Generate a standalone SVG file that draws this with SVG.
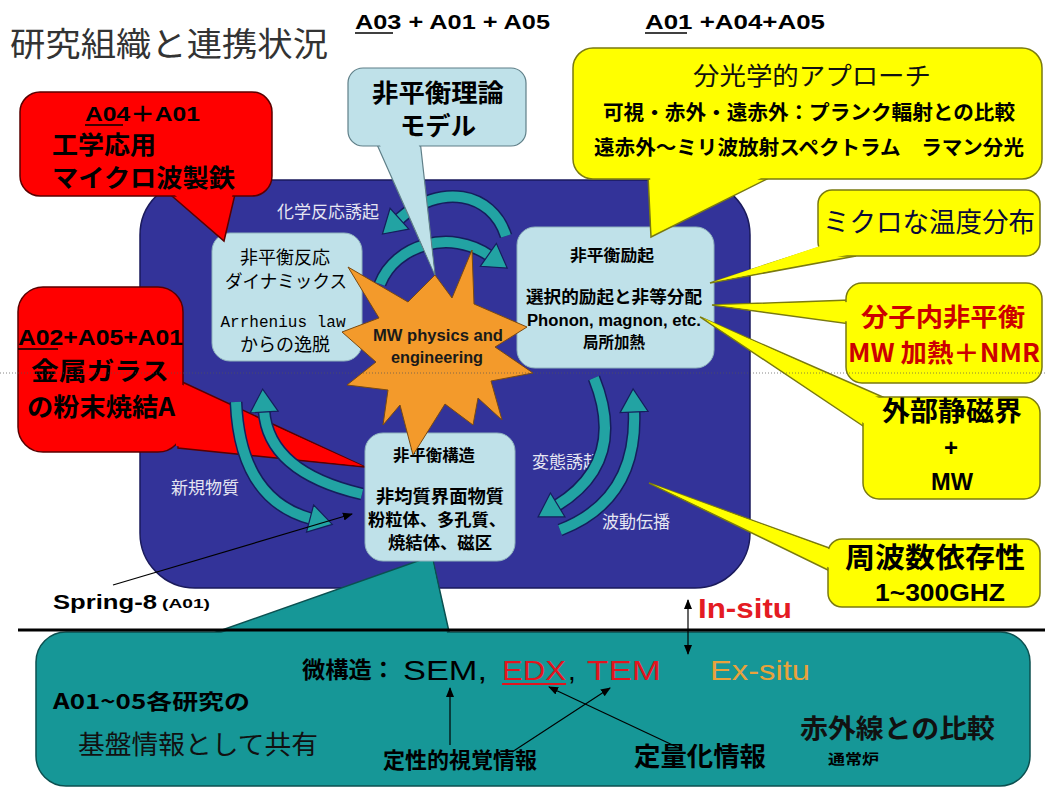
<svg xmlns="http://www.w3.org/2000/svg" width="1045" height="787" viewBox="0 0 1045 787">
<defs>
<style>
.jp{font-family:"Noto Sans CJK JP","Liberation Sans",sans-serif;}
.lat{font-family:"Liberation Sans","Noto Sans CJK JP",sans-serif;}
.mono{font-family:"Liberation Mono","Noto Sans CJK JP",monospace;}
.b{font-weight:bold;}
.m{text-anchor:middle;}
.red{fill:#FF0000;stroke:#5a0000;stroke-width:1.5;}
.redf{fill:#FF0000;stroke:none;}
.yel{fill:#FFFF00;stroke:#7a7a10;stroke-width:1.5;}
.yelf{fill:#FFFF00;stroke:none;}
.lb{fill:#BFE1E9;stroke:#5f7f88;stroke-width:1.2;}
.lbf{fill:#BFE1E9;stroke:none;}
.box{fill:#BFE1E9;stroke:#8fb3bd;stroke-width:1;}
.tl{fill:#169797;stroke:#0b5050;stroke-width:1.5;}
.tlf{fill:#169797;stroke:none;}
.co{fill:none;stroke:#151e5c;stroke-width:13;}
.ci{fill:none;stroke:#22A3A3;stroke-width:10;marker-end:url(#tah);}
.nl{fill:#E6E6F2;font-size:17px;}
.blk{stroke:#000;stroke-width:1.2;fill:none;marker-end:url(#bah);}
</style>
<marker id="tah" markerUnits="userSpaceOnUse" markerWidth="26" markerHeight="30" viewBox="0 0 26 30" refX="3" refY="15" orient="auto"><path d="M1,1 L24,15 L1,29 Z" fill="#22A3A3" stroke="#151e5c" stroke-width="1.2"/></marker>
<marker id="bah" markerUnits="userSpaceOnUse" markerWidth="10" markerHeight="10" viewBox="0 0 10 10" refX="9" refY="5" orient="auto"><path d="M0,1 L10,5 L0,9 Z" fill="#000"/></marker>
<marker id="bas" markerUnits="userSpaceOnUse" markerWidth="10" markerHeight="10" viewBox="0 0 10 10" refX="1" refY="5" orient="auto"><path d="M10,1 L0,5 L10,9 Z" fill="#000"/></marker>
</defs>

<rect x="0" y="0" width="1045" height="787" fill="#FFFFFF"/>

<g id="title">
<text x="10" y="56" class="jp" font-size="33" fill="#333333" textLength="318" lengthAdjust="spacingAndGlyphs">研究組織と連携状況</text>
</g>

<g id="header-a03">
<text x="355" y="29" class="lat b" font-size="20" fill="#000" textLength="195" lengthAdjust="spacingAndGlyphs">A03 + A01 + A05</text>
<line x1="355" y1="33" x2="393" y2="33" stroke="#000" stroke-width="1.5"/>
</g>
<g id="header-a01">
<text x="645" y="29" class="lat b" font-size="20" fill="#000" textLength="180" lengthAdjust="spacingAndGlyphs">A01  +A04+A05</text>
<line x1="645" y1="33" x2="687" y2="33" stroke="#000" stroke-width="1.5"/>
</g>

<g id="main-area">
<rect x="140" y="180" width="610" height="408" rx="55" fill="#333399" stroke="#1a1a5c" stroke-width="1.5"/>
<text x="328" y="218" class="jp nl m">化学反応誘起</text>
<text x="205" y="494" class="jp nl m">新規物質</text>
<text x="566" y="468" class="jp nl m">変態誘起</text>
<text x="636" y="528" class="jp nl m">波動伝播</text>
</g>

<g id="callout-shared">
<polygon class="tl" points="205,636 432,556 450,636"/>
<rect class="tl" x="36" y="632" width="994" height="154" rx="30"/>
<polygon class="tlf" points="207,638 432,558 448,638"/>
<text x="53" y="709" class="jp b" font-size="21" fill="#000" textLength="197" lengthAdjust="spacingAndGlyphs">A01~05各研究の</text>
<text x="78" y="754" class="jp" font-size="26" fill="#111" textLength="240" lengthAdjust="spacingAndGlyphs">基盤情報として共有</text>
<text x="302" y="678" class="jp b" font-size="23" fill="#000" textLength="93" lengthAdjust="spacingAndGlyphs">微構造：</text>
<text x="403" y="680" class="lat" font-size="28" fill="#000" textLength="84" lengthAdjust="spacingAndGlyphs">SEM,</text>
<text x="502" y="680" class="lat" font-size="28" fill="#E3141E" textLength="64" lengthAdjust="spacingAndGlyphs">EDX</text>
<line x1="502" y1="684" x2="566" y2="684" stroke="#E3141E" stroke-width="2"/>
<text x="568" y="680" class="lat" font-size="28" fill="#000">,</text>
<text x="587" y="680" class="lat" font-size="28" fill="#E3141E" textLength="74" lengthAdjust="spacingAndGlyphs">TEM</text>
<text x="710" y="680" class="lat" font-size="28" fill="#E9A23B" textLength="100" lengthAdjust="spacingAndGlyphs">Ex-situ</text>
<text x="383" y="768" class="jp b" font-size="22" fill="#000" textLength="154" lengthAdjust="spacingAndGlyphs">定性的視覚情報</text>
<text x="634" y="766" class="jp b" font-size="26" fill="#000" textLength="132" lengthAdjust="spacingAndGlyphs">定量化情報</text>
<text x="800" y="738" class="jp b" font-size="26" fill="#111" textLength="195" lengthAdjust="spacingAndGlyphs">赤外線との比較</text>
<text x="828" y="764" class="jp b" font-size="14" fill="#000" textLength="51" lengthAdjust="spacingAndGlyphs">通常炉</text>
</g>

<g id="callout-a02">
<polygon class="red" points="178,380 365,467 178,448"/>
<rect class="red" x="18" y="287" width="165" height="165" rx="25"/>
<polygon class="redf" points="176,382 363,466 176,446"/>
<text x="18" y="345" class="lat b" font-size="22" fill="#000" textLength="165" lengthAdjust="spacingAndGlyphs">A02+A05+A01</text>
<line x1="18" y1="349" x2="58" y2="349" stroke="#000" stroke-width="1.5"/>
<text x="100" y="380" class="jp b m" font-size="25" fill="#000" textLength="138" lengthAdjust="spacingAndGlyphs">金属ガラス</text>
<text x="101" y="416" class="jp b m" font-size="25" fill="#000" textLength="148" lengthAdjust="spacingAndGlyphs">の粉末焼結A</text>
</g>

<g id="connectors">
<path class="co" d="M 506 236 C 492 192 440 182 398 220"/>
<path class="ci" d="M 506 236 C 492 192 440 182 398 220"/>
<path class="co" d="M 380 284 C 395 245 450 228 490 256"/>
<path class="ci" d="M 380 284 C 395 245 450 228 490 256"/>
<path class="co" d="M 362 494 Q 268 472 264 410"/>
<path class="ci" d="M 362 494 Q 268 472 264 410"/>
<path class="co" d="M 236 402 Q 240 500 312 519"/>
<path class="ci" d="M 236 402 Q 240 500 312 519"/>
<path class="co" d="M 594 378 Q 628 462 556 506"/>
<path class="ci" d="M 594 378 Q 628 462 556 506"/>
<path class="co" d="M 560 530 Q 638 500 634 410"/>
<path class="ci" d="M 560 530 Q 638 500 634 410"/>
</g>

<g id="callout-theory">
<polygon class="lb" points="375,140 435,275 420,140"/>
<rect class="lb" x="348" y="68" width="178" height="78" rx="15"/>
<polygon class="lbf" points="377,138 434,272 418,138"/>
<text x="438" y="102" class="jp b m" font-size="25" fill="#000" textLength="132" lengthAdjust="spacingAndGlyphs">非平衡理論</text>
<text x="438" y="135" class="jp b m" font-size="25" fill="#000" textLength="76" lengthAdjust="spacingAndGlyphs">モデル</text>
</g>

<g id="node-reaction">
<rect class="box" x="212" y="233" width="150" height="128" rx="18"/>
<text x="285" y="264" class="jp m" font-size="18" fill="#000" textLength="90" lengthAdjust="spacingAndGlyphs">非平衡反応</text>
<text x="286" y="288" class="jp m" font-size="18" fill="#000" textLength="122" lengthAdjust="spacingAndGlyphs">ダイナミックス</text>
<text x="283" y="327" class="mono m" font-size="16" fill="#000" textLength="125" lengthAdjust="spacingAndGlyphs">Arrhenius law</text>
<text x="285" y="351" class="jp m" font-size="18" fill="#000" textLength="90" lengthAdjust="spacingAndGlyphs">からの逸脱</text>
</g>

<g id="node-excitation">
<rect class="box" x="517" y="227" width="197" height="141" rx="18"/>
<text x="612" y="261" class="jp b m" font-size="16" fill="#000" textLength="84" lengthAdjust="spacingAndGlyphs">非平衡励起</text>
<text x="614" y="303" class="jp b m" font-size="17" fill="#000" textLength="176" lengthAdjust="spacingAndGlyphs">選択的励起と非等分配</text>
<text x="614" y="326" class="lat b m" font-size="16" fill="#000" textLength="174" lengthAdjust="spacingAndGlyphs">Phonon, magnon, etc.</text>
<text x="614" y="348" class="jp b m" font-size="16" fill="#000" textLength="62" lengthAdjust="spacingAndGlyphs">局所加熱</text>
</g>

<g id="node-structure">
<rect class="box" x="365" y="433" width="150" height="128" rx="18"/>
<text x="434" y="461" class="jp b m" font-size="16" fill="#000" textLength="82" lengthAdjust="spacingAndGlyphs">非平衡構造</text>
<text x="440" y="503" class="jp b m" font-size="18" fill="#000" textLength="128" lengthAdjust="spacingAndGlyphs">非均質界面物質</text>
<text x="437" y="526" class="jp b m" font-size="17" fill="#000" textLength="138" lengthAdjust="spacingAndGlyphs">粉粒体、多孔質、</text>
<text x="440" y="549" class="jp b m" font-size="17" fill="#000" textLength="104" lengthAdjust="spacingAndGlyphs">焼結体、磁区</text>
</g>

<g id="node-mw">
<polygon points="435,275 452,298 472,250 474,304 527,327 495,347 533,373 491,381 502,420 478,398 473,425 445,404 413,455 400,405 383,425 388,390 347,385 376,362 342,332 379,318 348,267 408,302" fill="#F39A2B" stroke="#7a4a10" stroke-width="1"/>
<text x="438" y="341" class="lat b m" font-size="16" fill="#1a1a1a" textLength="130" lengthAdjust="spacingAndGlyphs">MW physics and</text>
<text x="437" y="363" class="lat b m" font-size="16" fill="#1a1a1a" textLength="92" lengthAdjust="spacingAndGlyphs">engineering</text>
</g>

<g id="callout-a04">
<polygon class="red" points="165,190 224,241 236,190"/>
<rect class="red" x="20" y="92" width="252" height="104" rx="20"/>
<polygon class="redf" points="167,188 223,238 234,188"/>
<text x="85" y="121" class="lat b" font-size="21" fill="#000" textLength="115" lengthAdjust="spacingAndGlyphs">A04＋A01</text>
<line x1="85" y1="125" x2="123" y2="125" stroke="#000" stroke-width="1.5"/>
<text x="52" y="154" class="jp b" font-size="25" fill="#000" textLength="104" lengthAdjust="spacingAndGlyphs">工学応用</text>
<text x="52" y="187" class="jp b" font-size="25" fill="#000" textLength="183" lengthAdjust="spacingAndGlyphs">マイクロ波製鉄</text>
</g>

<g id="callout-spectro">
<polygon class="yel" points="648,175 651,237 775,175"/>
<rect class="yel" x="573" y="48" width="469" height="131" rx="20"/>
<polygon class="yelf" points="650,173 652,234 771,173"/>
<text x="812" y="85" class="jp m" font-size="25" fill="#111" textLength="238" lengthAdjust="spacingAndGlyphs">分光学的アプローチ</text>
<text x="809" y="120" class="jp b m" font-size="20" fill="#000" textLength="412" lengthAdjust="spacingAndGlyphs">可視・赤外・遠赤外：プランク輻射との比較</text>
<text x="809" y="155" class="jp b m" font-size="20" fill="#000" textLength="430" lengthAdjust="spacingAndGlyphs">遠赤外～ミリ波放射スペクトラム　ラマン分光</text>
</g>

<g id="callout-micro">
<polygon class="yel" points="824,246 710,283 856,256"/>
<rect class="yel" x="818" y="190" width="222" height="66" rx="14"/>
<polygon class="yelf" points="826,244 713,282 852,254"/>
<text x="929" y="232" class="jp m" font-size="27" fill="#0a0a3a" textLength="212" lengthAdjust="spacingAndGlyphs">ミクロな温度分布</text>
</g>

<g id="callout-intra">
<polygon class="yel" points="850,300 712,305 850,324"/>
<rect class="yel" x="846" y="283" width="196" height="100" rx="16"/>
<polygon class="yelf" points="852,302 715,305 852,322"/>
<text x="943" y="326" class="jp b m" font-size="25" fill="#CC0000" textLength="164" lengthAdjust="spacingAndGlyphs">分子内非平衡</text>
<text x="944" y="362" class="jp b m" font-size="25" fill="#CC0000" textLength="192" lengthAdjust="spacingAndGlyphs">MW 加熱＋NMR</text>
</g>

<g id="callout-magnet">
<polygon class="yel" points="866,428 700,317 892,401"/>
<rect class="yel" x="863" y="397" width="177" height="102" rx="16"/>
<polygon class="yelf" points="868,426 703,318 890,403"/>
<text x="952" y="421" class="jp b m" font-size="27" fill="#000" textLength="140" lengthAdjust="spacingAndGlyphs">外部静磁界</text>
<text x="951" y="456" class="lat b m" font-size="24" fill="#000">+</text>
<text x="952" y="490" class="lat b m" font-size="24" fill="#000" textLength="42" lengthAdjust="spacingAndGlyphs">MW</text>
</g>

<g id="callout-freq">
<polygon class="yel" points="832,549 649,483 832,572"/>
<rect class="yel" x="828" y="539" width="212" height="68" rx="14"/>
<polygon class="yelf" points="834,551 652,484 834,570"/>
<text x="935" y="568" class="jp b m" font-size="28" fill="#000" textLength="180" lengthAdjust="spacingAndGlyphs">周波数依存性</text>
<text x="940" y="601" class="lat b m" font-size="24" fill="#000" textLength="130" lengthAdjust="spacingAndGlyphs">1~300GHZ</text>
</g>

<g id="label-spring8">
<text x="53" y="609" class="lat b" font-size="20" fill="#000" textLength="104" lengthAdjust="spacingAndGlyphs">Spring-8</text>
<text x="162" y="608" class="lat b" font-size="12" fill="#000" textLength="48" lengthAdjust="spacingAndGlyphs">(A01)</text>
</g>

<g id="links">
<line class="blk" x1="113" y1="585" x2="352" y2="514"/>
<line class="blk" x1="450" y1="745" x2="450" y2="688"/>
<line class="blk" x1="512" y1="752" x2="610" y2="688"/>
<line class="blk" x1="679" y1="748" x2="549" y2="687"/>
<line x1="688" y1="600" x2="688" y2="654" stroke="#000" stroke-width="1.2" marker-start="url(#bas)" marker-end="url(#bah)"/>
</g>

<g id="divider">
<line x1="18" y1="630" x2="1045" y2="630" stroke="#000" stroke-width="3"/>
</g>

<g id="label-insitu">
<text x="698" y="618" class="lat b" font-size="28" fill="#E41B23" textLength="94" lengthAdjust="spacingAndGlyphs">In-situ</text>
</g>

<line x1="0" y1="373" x2="1045" y2="373" stroke="#555" stroke-width="1" stroke-dasharray="1,2" opacity="0.7"/>
</svg>
